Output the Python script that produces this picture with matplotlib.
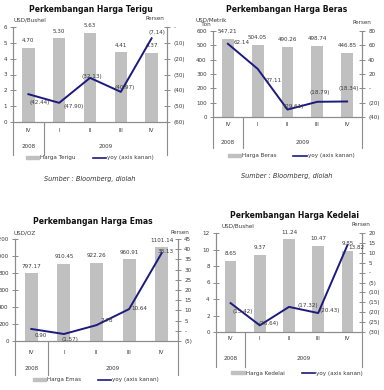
import matplotlib
matplotlib.use("Agg")
import matplotlib.pyplot as plt
from matplotlib.patches import Patch
from matplotlib.lines import Line2D

# ---------------- data ----------------
quarters = ["IV", "I", "II", "III", "IV"]
years = ["2008", "2009"]

terigu_price = [4.70, 5.30, 5.63, 4.41, 4.37]
terigu_yoy = [-42.44, -47.90, -32.13, -40.97, -7.14]

beras_price = [547.21, 504.05, 490.26, 498.74, 446.85]
beras_yoy = [62.14, 27.11, -29.61, -18.79, -18.34]

emas_price = [797.17, 910.45, 922.26, 960.91, 1101.14]
emas_yoy = [0.90, -1.57, 2.78, 10.64, 38.13]

kedelai_price = [8.65, 9.37, 11.24, 10.47, 9.85]
kedelai_yoy = [-15.42, -26.64, -17.32, -20.43, 13.82]

W, H = 384, 390
fig = plt.figure(figsize=(W / 100, H / 100), dpi=100)
plt.rcParams['font.family'] = ['DejaVu Sans']

BAR = "#c0c0c0"
LINE = "#1c1a7e"
AX = "#8c8c8c"
TXT = "#3a3a3a"
FS = 4.1


def fx(x):
    return x / W


def fy(y):
    return 1 - y / H


def fmt_pct(v):
    if abs(v) < 1e-9:
        return "-"
    return f"({abs(v):.0f})" if v < 0 else f"{v:.0f}"


def fmt_lbl(v):
    return f"({abs(v):.2f})" if v < 0 else f"{v:.2f}"


def panel(box, title, title_xy, price, yoy, lticks, rticks, ltick_lbls,
          lunit, lunit_xy, punit_xy, legend_name, legend_xy, yoy_offsets,
          bottom_px, cat_y, year_y, source_xy=None):
    l, t, r, b = box
    ax = fig.add_axes([fx(l), fy(b), fx(r - l), (b - t) / H])
    x = list(range(len(price)))
    ax.bar(x, price, width=0.4, color=BAR, zorder=2)
    ax.set_xlim(-0.5, len(price) - 0.5)
    ax.set_ylim(lticks[0], lticks[-1])
    ax.set_yticks(lticks)
    ax.set_yticklabels(ltick_lbls)
    ax2 = ax.twinx()
    ax2.plot(x, yoy, color=LINE, lw=1.4, zorder=3)
    ax2.set_ylim(rticks[0], rticks[-1])
    ax2.set_yticks(rticks)
    ax2.set_yticklabels([fmt_pct(v) for v in rticks])
    for a in (ax, ax2):
        a.set_xticks([])
        a.spines["top"].set_visible(False)
        for s in ("left", "right", "bottom"):
            a.spines[s].set_color(AX)
            a.spines[s].set_linewidth(0.8)
        a.tick_params(axis="y", direction="inout", length=4, width=0.7,
                      color=AX, labelsize=FS, labelcolor=TXT, pad=2.5)
        a.patch.set_visible(False)
    # bar labels
    for i, v in enumerate(price):
        ax.annotate(f"{v:.2f}", (i, v), xytext=(0, 7), textcoords="offset pixels",
                    ha="center", va="center", fontsize=FS, color=TXT)
    # yoy labels
    for i, v in enumerate(yoy):
        dx, dy = yoy_offsets[i]
        ax2.annotate(fmt_lbl(v), (i, v), xytext=(dx, -dy), textcoords="offset pixels",
                     ha="center", va="center", fontsize=FS, color=TXT, zorder=4)
    # category axis
    tr = ax.get_xaxis_transform()
    depth = (bottom_px - b) / (b - t)
    for xe in (-0.5, 0.5, len(price) - 0.5):
        ax.plot([xe, xe], [0, -depth], transform=tr, color=AX, lw=0.8, clip_on=False)
    cy = -(cat_y - b) / (b - t)
    yy = -(year_y - b) / (b - t)
    for i, q in enumerate(quarters):
        ax.text(i, cy, q, transform=tr, ha="center", va="center", fontsize=FS, color=TXT)
    ax.text(0, yy, years[0], transform=tr, ha="center", va="center", fontsize=FS, color=TXT)
    ax.text(2.5, yy, years[1], transform=tr, ha="center", va="center", fontsize=FS, color=TXT)
    # titles / units
    fig.text(fx(title_xy[0]), fy(title_xy[1]), title, ha="center", va="center",
             fontsize=5.5, fontweight="bold", color="#111111")
    fig.text(fx(lunit_xy[0]), fy(lunit_xy[1]), lunit, ha="left", va="center",
             fontsize=FS, color=TXT, linespacing=0.9)
    fig.text(fx(punit_xy[0]), fy(punit_xy[1]), "Persen", ha="center", va="center",
             fontsize=FS, color=TXT)
    handles = [Patch(color=BAR), Line2D([], [], color=LINE, lw=1.2)]
    fig.legend(handles, [legend_name, "yoy (axis kanan)"], loc="center",
               bbox_to_anchor=(fx(legend_xy[0]), fy(legend_xy[1])), ncol=2,
               frameon=False, fontsize=FS, handlelength=2.3, handleheight=0.5,
               columnspacing=3.0, handletextpad=0.2, labelcolor=TXT,
               borderpad=0, borderaxespad=0)
    if source_xy is not None:
        fig.text(fx(source_xy[0]), fy(source_xy[1]), "Sumber : Bloomberg, diolah",
                 ha="center", va="center", fontsize=4.7, style="italic", color="#333333")
    return ax, ax2


panel((13, 27, 167, 122), "Perkembangan Harga Terigu", (91, 9),
      terigu_price, terigu_yoy, [0, 1, 2, 3, 4, 5, 6], [-60, -50, -40, -30, -20, -10, 0],
      ["0", "1", "2", "3", "4", "5", "6"],
      "USD/Bushel", (13, 20), (155, 19), "Harga Terigu", (90, 158),
      [(11, 8), (14, 4), (2, -1), (4, -4), (5, -6)], 155, 131, 147, source_xy=(90, 179))

panel((213, 31, 362, 117), "Perkembangan Harga Beras", (287, 10),
      beras_price, beras_yoy, [0, 100, 200, 300, 400, 500, 600], [-40, -20, 0, 20, 40, 60, 80],
      ["0", "100", "200", "300", "400", "500", "600"],
      "USD/Metrik\n   Ton", (196, 22), (362, 23), "Harga Beras", (291, 156),
      [(14, -1), (16, 12), (6, -3), (2, -9), (2, -13)], 148, 124, 143, source_xy=(287, 176))

panel((15, 239, 178, 341), "Perkembangan Harga Emas", (93, 221),
      emas_price, emas_yoy, [0, 200, 400, 600, 800, 1000, 1200],
      [-5, 0, 5, 10, 15, 20, 25, 30, 35, 40, 45],
      ["0", "200", "400", "600", "800", "1000", "1200"],
      "USD/OZ", (13, 233), (180, 232), "Harga Emas", (96, 380),
      [(9, 7), (6, 5), (10, -5), (10, -1), (4, -2)], 375, 352, 368)

panel((216, 233, 362, 332), "Perkembangan Harga Kedelai", (295, 216),
      kedelai_price, kedelai_yoy, [0, 2, 4, 6, 8, 10, 12],
      [-30, -25, -20, -15, -10, -5, 0, 5, 10, 15, 20],
      ["0", "2", "4", "6", "8", "10", "12"],
      "USD/Bushel", (221, 226), (361, 225), "Harga Kedelai", (297, 373),
      [(12, 8), (9, -2), (19, -1), (11, -3), (9, 2)], 367, 338, 359)

fig.savefig("out.png", dpi=100)
